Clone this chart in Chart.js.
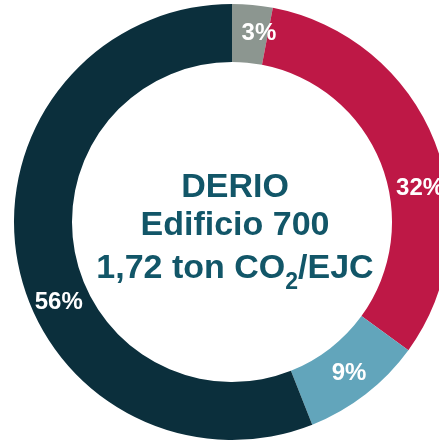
<!DOCTYPE html>
<html>
<head>
<meta charset="utf-8">
<script src="https://cdn.jsdelivr.net/npm/chart.js@4"></script>
<style>
  body { margin: 0; overflow: hidden; background: #fff; }
  #chart { position: absolute; left: 0; top: 0; }
</style>
</head>
<body>
<canvas id="chart" width="464" height="444"></canvas>
<script>
const labels = ["Gris", "Rojo", "Azul claro", "Azul oscuro"];
const values = [3, 32, 9, 56];
const pctLabels = ["3%", "32%", "9%", "56%"];
const centerLines = ["DERIO", "Edificio 700"];

const colors = ["#8c9690", "#be1846", "#62a5bb", "#0b2f3c"];
// where along each slice the label sits (0 = start, 1 = end)
const labelPos = [0.75, 0.6, 0.5, 0.43];

const sliceLabels = {
  id: "sliceLabels",
  afterDatasetsDraw(chart) {
    const ctx = chart.ctx;
    const meta = chart.getDatasetMeta(0);
    ctx.save();
    ctx.fillStyle = "#fff";
    ctx.font = "bold 24px 'Liberation Sans', Arial, sans-serif";
    ctx.textAlign = "center";
    ctx.textBaseline = "middle";
    meta.data.forEach((arc, i) => {
      const p = arc.getProps(["x", "y", "startAngle", "endAngle", "innerRadius", "outerRadius"], true);
      const a = p.startAngle + (p.endAngle - p.startAngle) * labelPos[i];
      const r = (p.innerRadius + p.outerRadius) / 2 + 2;
      ctx.fillText(pctLabels[i], p.x + Math.cos(a) * r, p.y + Math.sin(a) * r);
    });
    ctx.restore();
  }
};

const centerText = {
  id: "centerText",
  afterDraw(chart) {
    const ctx = chart.ctx;
    const arc = chart.getDatasetMeta(0).data[0];
    const cx = arc.x + 3, cy = arc.y;
    ctx.save();
    ctx.fillStyle = "#125668";
    ctx.textAlign = "center";
    ctx.textBaseline = "alphabetic";
    const big = "bold 34px 'Liberation Sans', Arial, sans-serif";
    const small = "bold 23px 'Liberation Sans', Arial, sans-serif";
    ctx.font = big;
    ctx.fillText(centerLines[0], cx, cy - 25);
    ctx.fillText(centerLines[1], cx, cy + 13);
    // third line with subscript
    const a = "1,72 ton CO", b = "2", c = "/EJC";
    ctx.font = big;
    const wa = ctx.measureText(a).width, wc = ctx.measureText(c).width;
    ctx.font = small;
    const wb = ctx.measureText(b).width;
    let x = cx - (wa + wb + wc) / 2;
    ctx.textAlign = "left";
    ctx.font = big;
    ctx.fillText(a, x, cy + 56);
    x += wa;
    ctx.font = small;
    ctx.fillText(b, x, cy + 67);
    x += wb;
    ctx.font = big;
    ctx.fillText(c, x, cy + 56);
    ctx.restore();
  }
};

new Chart("chart", {
  type: "doughnut",
  data: {
    labels: labels,
    datasets: [{
      data: values,
      backgroundColor: colors,
      borderWidth: 0
    }]
  },
  options: {
    responsive: false,
    animation: false,
    cutout: "73.4%",
    layout: { padding: 4 },
    plugins: {
      legend: { display: false },
      tooltip: { enabled: false }
    }
  },
  plugins: [sliceLabels, centerText]
});
</script>
</body>
</html>
